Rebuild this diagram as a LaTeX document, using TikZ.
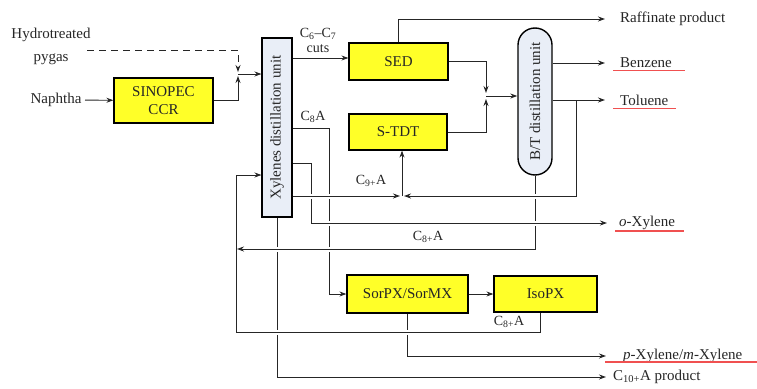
\documentclass[tikz,border=0pt]{standalone}
\usepackage{fontspec}
\setmainfont{Liberation Serif}
\usetikzlibrary{arrows.meta,calc}
\definecolor{unitfill}{RGB}{255,255,40}
\definecolor{colfill}{RGB}{233,238,247}
\definecolor{ulred}{RGB}{240,80,80}
\tikzset{>={Stealth[length=7pt,width=5pt]},every node/.style={font=\fontsize{15}{18}\selectfont,text=black!85},
flow/.style={->,line width=.9pt,draw=black!85},hop/.style={preaction={draw=white,line width=5pt,-}},
unit/.style={draw,line width=1.2pt,fill=unitfill,inner sep=2pt,align=center},
column/.style={draw,line width=1.1pt,fill=colfill,inner sep=0pt},
lbl/.style={font=\fontsize{14}{15}\selectfont,inner sep=1pt},
prod/.style={anchor=west,inner ysep=0pt,inner xsep=14pt},uline/.style={draw=ulred,line width=1.1pt}}
\newcommand{\Csub}[1]{C\textsubscript{#1}}

\begin{document}
\begin{tikzpicture}[x=1pt,y=-1pt]
\useasboundingbox (0,0) rectangle (757,388);
\node[align=center,font=\fontsize{15}{23}\selectfont] (hp) at (51,46) {Hydrotreated\\pygas};
\node[left] (naph) at (85,100) {Naphtha};
\node[unit,minimum width=99pt,minimum height=45pt] (ccr) at (163.5,100.5) {SINOPEC\\CCR};
\node[column,minimum width=30pt,minimum height=179pt] (xdu) at (277,127.5) {\rotatebox{90}{Xylenes distillation unit}};
\node[unit,minimum width=99pt,minimum height=37pt] (sed) at (398.5,61.5) {SED};
\node[unit,minimum width=98pt,minimum height=36pt] (stdt) at (398,132) {S-TDT};
\node[column,line width=1.4pt,rounded corners=17pt,minimum width=34pt,minimum height=147pt] (bt) at (535,101.5) {\rotatebox{90}{B/T distillation unit}};
\node[unit,minimum width=121pt,minimum height=38pt] (sorpx) at (407.5,294) {SorPX/SorMX};
\node[unit,minimum width=103pt,minimum height=36pt] (isopx) at (545.5,294) {IsoPX};
\node[prod,inner xsep=15pt] (raf) at (605,19) {Raffinate product};
\node[prod,inner xsep=15pt] (benz) at (605,63) {Benzene};
\node[prod,inner xsep=15pt] (tol) at (605,100) {Toluene};
\node[prod,inner xsep=12pt] (oxyl) at (607,223) {\textit{o}-Xylene};
\node[prod,inner xsep=17pt] (pxyl) at (606,356) {\textit{p}-Xylene/\textit{m}-Xylene};
\node[prod,inner xsep=7pt] (c10) at (606,377) {\Csub{10+}A product};
\node[lbl,align=center,font=\fontsize{14}{15}\selectfont] (cuts) at (318,40) {\Csub{6}–\Csub{7}\\cuts};
\node[lbl] (lc8) at (313,117) {\Csub{8}A};
\node[lbl] (lc9) at (371,181) {\Csub{9+}A};
\node[lbl] (lc8r) at (428,237) {\Csub{8+}A};
\node[lbl] (lc8i) at (509,322) {\Csub{8+}A};
\coordinate (pyg) at (87,50);\coordinate (jx) at (238,74);\coordinate (jb) at (486,96);\coordinate (jt) at (402,196);\coordinate (tb) at (576,100);
\draw[flow] (naph) -- (ccr);
\draw[flow,dashed,dash pattern=on 7pt off 5pt,shorten >=2pt] (pyg) -| (jx);\draw[flow,shorten >=2pt] (ccr.east) -| (jx);
\draw[flow] (jx) -- (jx -| xdu.west);
\draw[flow] (xdu.east |- 0,58) -- (sed.west |- 0,58);
\draw[flow] (sed.north) |- (raf.west);
\draw[flow,shorten >=3pt] (sed.east) -| (jb);\draw[flow,shorten >=3pt] (stdt.east) -| (jb);
\draw[flow] (jb) -- (jb -| bt.west);
\draw[flow] (bt.east |- benz.west) -- (benz.west);
\draw[flow] (xdu.south) |- (c10.west);
\draw[flow] (sorpx.south) |- (pxyl.west);
\draw[flow] (xdu.east |- 0,128) -- (329,128) |- (sorpx.west);
\draw[flow] (sorpx) -- (isopx);
\draw[flow,hop] ($(isopx.south)+(-5,0)$) |- (236,332) |- (xdu.west |- 0,175);
\draw[flow,hop] (bt.south) |- (237,249);
\draw[flow,hop] (xdu.east |- 0,163) -| (311,223) -- (oxyl.west);
\draw[flow,hop] (xdu.east |- jt) -- ($(jt)+(-2,0)$);
\draw[flow,hop] (tb) |- ($(jt)+(2,0)$);
\draw[flow] (bt.east |- tol.west) -- (tol.west);
\draw[flow] (jt) -- (jt |- stdt.south);
\draw[uline] ($(benz.south west)+(8,2)$) -- ($(benz.south east)+(-2,2)$);
\draw[uline] ($(tol.south west)+(8,2.6)$) -- ($(tol.south east)+(-8,2.6)$);
\draw[uline] ($(oxyl.south west)+(8,1)$) -- ($(oxyl.south east)+(-3,1)$);
\draw[uline] ($(pxyl.south west)+(-1,-1)$) -- ($(pxyl.south east)+(-2,-1)$);
\end{tikzpicture}
\end{document}
